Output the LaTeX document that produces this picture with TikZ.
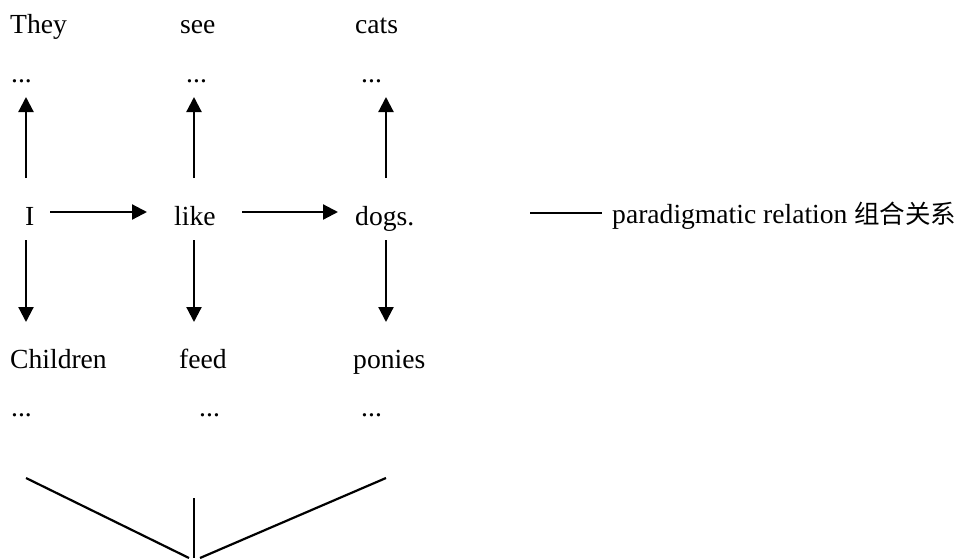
\documentclass[tikz,border=0pt]{standalone}
\usepackage{fontspec}
\setmainfont{Liberation Serif}
\newfontfamily\cjk{Noto Sans CJK SC}
\usetikzlibrary{arrows.meta}
\begin{document}
\begin{tikzpicture}[x=1pt,y=-1pt,
  word/.style={anchor=base west,inner sep=0pt,font=\fontsize{27.6}{33}\selectfont},
  rel/.style={line width=2.2pt,-{Triangle[length=15pt,width=15pt]}},
  plain/.style={line width=2.2pt}]
\useasboundingbox[fill=white] (0,0) rectangle (970,558);

% words of the three columns
\node[word] (they) at (10,33) {They};
\node[word] (see) at (180,33) {see};
\node[word] (cats) at (355,33) {cats};
\node[word] (d1) at (11,82) {...};
\node[word] (d2) at (186,82) {...};
\node[word] (d3) at (361,82) {...};
\node[word] (i) at (25,225) {I};
\node[word] (like) at (174,225) {like};
\node[word] (dogs) at (355,225) {dogs.};
\node[word] (children) at (10,368) {Children};
\node[word] (feed) at (179,368) {feed};
\node[word] (ponies) at (353,368) {ponies};
\node[word] (e1) at (11,416) {...};
\node[word] (e2) at (199,416) {...};
\node[word] (e3) at (361,416) {...};

% arrow end points
\foreach \n/\x in {a/26,b/194,c/386}{
  \coordinate (up\n s) at (\x,178);
  \coordinate (up\n t) at (\x,97);
  \coordinate (dn\n s) at (\x,240);
  \coordinate (dn\n t) at (\x,322);
}
\coordinate (h1s) at (50,212);  \coordinate (h1t) at (147,212);
\coordinate (h2s) at (242,212); \coordinate (h2t) at (338,212);

\foreach \n in {a,b,c}{
  \draw[rel] (up\n s) -- (up\n t);
  \draw[rel] (dn\n s) -- (dn\n t);
}
\draw[rel] (h1s) -- (h1t);
\draw[rel] (h2s) -- (h2t);

% legend
\coordinate (lg1) at (530,213);
\coordinate (lg2) at (602,213);
\draw[line width=2.6pt] (lg1) -- (lg2);
\node[word] (legend) at (612,223) {paradigmatic relation {\cjk\fontsize{25.5}{30}\selectfont 组合关系}};

% bracket below
\coordinate (bl) at (26,478);
\coordinate (br) at (386,478);
\coordinate (bm) at (194,498);
\coordinate (blend) at (189,558);
\coordinate (brend) at (200,558);
\coordinate (bmend) at (194,558);
\draw[plain] (bl) -- (blend);
\draw[plain] (br) -- (brend);
\draw[line width=2.8pt] (bm) -- (bmend);
\end{tikzpicture}
\end{document}
